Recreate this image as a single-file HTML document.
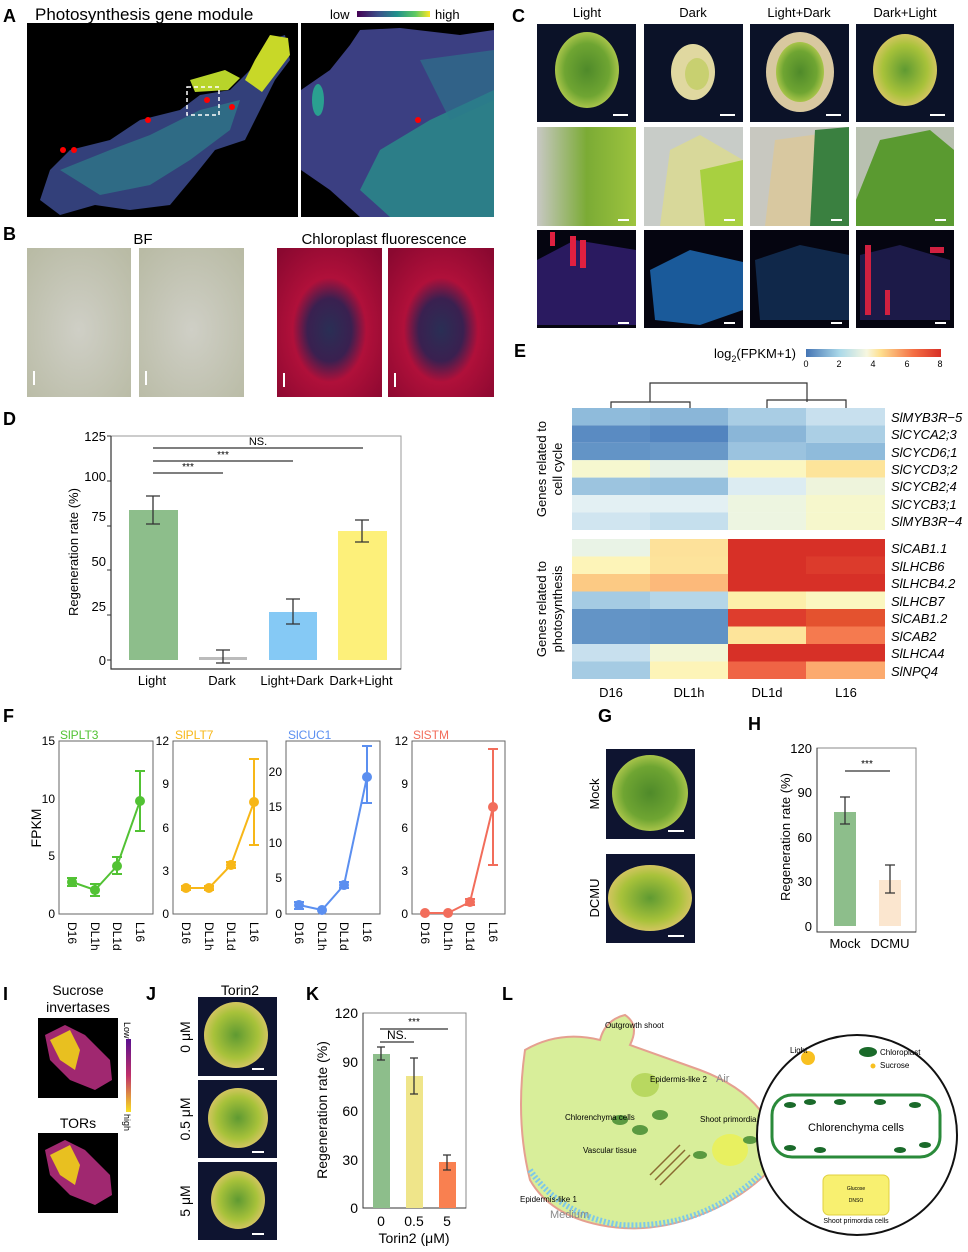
<!DOCTYPE html>
<html><head><meta charset="utf-8"><style>
body{margin:0;background:#fff}
svg{display:block;font-family:"Liberation Sans",Arial,sans-serif}
</style></head><body>
<svg width="968" height="1252" viewBox="0 0 968 1252" xmlns="http://www.w3.org/2000/svg">
<defs>
<linearGradient id="vir" x1="0" x2="1"><stop offset="0" stop-color="#440154"/><stop offset=".3" stop-color="#3b528b"/><stop offset=".55" stop-color="#21918c"/><stop offset=".8" stop-color="#5ec962"/><stop offset="1" stop-color="#fde725"/></linearGradient>
<linearGradient id="rdb" x1="0" x2="1"><stop offset="0" stop-color="#4575b4"/><stop offset=".25" stop-color="#abd9e9"/><stop offset=".45" stop-color="#f7f7e0"/><stop offset=".55" stop-color="#fee090"/><stop offset=".8" stop-color="#f46d43"/><stop offset="1" stop-color="#d73027"/></linearGradient>
<linearGradient id="inf" x1="0" y1="0" x2="0" y2="1"><stop offset="0" stop-color="#5a1090"/><stop offset=".5" stop-color="#c0306a"/><stop offset="1" stop-color="#f8e020"/></linearGradient>
<radialGradient id="redf" cx=".5" cy=".55" r=".7"><stop offset="0" stop-color="#2a2f55"/><stop offset=".3" stop-color="#3a2050"/><stop offset=".5" stop-color="#b0103a"/><stop offset="1" stop-color="#8a0830"/></radialGradient>
<radialGradient id="bfg" cx=".5" cy=".55" r=".7"><stop offset="0" stop-color="#cfcfc6"/><stop offset="1" stop-color="#b9bba5"/></radialGradient>
<radialGradient id="pl" cx=".5" cy=".5" r=".5"><stop offset="0" stop-color="#4f8a2a"/><stop offset=".7" stop-color="#6fa532"/><stop offset="1" stop-color="#a8c44a"/></radialGradient>
<radialGradient id="ply" cx=".5" cy=".5" r=".5"><stop offset="0" stop-color="#5f9a32"/><stop offset=".7" stop-color="#a8c23a"/><stop offset="1" stop-color="#d2c560"/></radialGradient>
<linearGradient id="zm" x1="0" x2="1"><stop offset="0" stop-color="#c8c8c4"/><stop offset=".5" stop-color="#7bab35"/><stop offset="1" stop-color="#9ec43e"/></linearGradient>
<linearGradient id="cb" x1="0" x2="1"><stop offset="0" stop-color="#1c3a90"/><stop offset=".5" stop-color="#0a1a50"/><stop offset="1" stop-color="#1a2a70"/></linearGradient>
</defs>
<g font-weight="bold" font-size="18" fill="#000">
<text x="3" y="22">A</text><text x="3" y="240">B</text><text x="512" y="22">C</text><text x="3" y="425">D</text><text x="514" y="357">E</text><text x="3" y="722">F</text><text x="598" y="722">G</text><text x="748" y="730">H</text><text x="3" y="1000">I</text><text x="146" y="1000">J</text><text x="306" y="1000">K</text><text x="502" y="1000">L</text>
</g>
<!-- A -->
<text x="35" y="20" font-size="17">Photosynthesis gene module</text>
<text x="330" y="19" font-size="13">low</text><rect x="357" y="11" width="73" height="6" fill="url(#vir)"/><text x="435" y="19" font-size="13">high</text>
<rect x="27" y="23" width="271" height="194" fill="#000"/>
<path d="M40 200 L50 170 L70 150 L110 140 L140 120 L180 110 L200 95 L230 90 L250 70 L270 40 L285 35 L290 60 L275 80 L260 110 L245 140 L215 150 L195 175 L170 205 L130 210 L95 205 L60 215 Z" fill="#33407a"/>
<path d="M60 170 L110 150 L150 135 L200 110 L240 100 L230 130 L190 160 L150 185 L100 195 Z" fill="#2e7d8a" opacity=".7"/>
<path d="M255 60 L270 35 L288 38 L290 55 L275 75 L262 92 L245 80 Z" fill="#c8d828"/>
<path d="M190 80 L225 70 L240 78 L228 90 L195 92 Z" fill="#b8d42a"/>
<rect x="187" y="87" width="32" height="28" fill="none" stroke="#fff" stroke-dasharray="4 3" stroke-width="1.5"/>
<g fill="#f00"><circle cx="207" cy="100" r="3"/><circle cx="232" cy="107" r="3"/><circle cx="148" cy="120" r="3"/><circle cx="63" cy="150" r="3"/><circle cx="74" cy="150" r="3"/></g>
<rect x="301" y="23" width="193" height="194" fill="#000"/>
<path d="M301 90 L330 70 L350 45 L360 30 L400 28 L460 35 L494 30 L494 217 L360 217 L330 190 L301 170 Z" fill="#3b3f82"/>
<path d="M380 150 L430 120 L494 90 L494 217 L390 217 L360 190 Z" fill="#2a8a8a" opacity=".85"/>
<path d="M420 60 L494 50 L494 100 L450 120 Z" fill="#2b7a8c" opacity=".6"/>
<ellipse cx="318" cy="100" rx="6" ry="16" fill="#2aa090"/>
<circle cx="418" cy="120" r="3" fill="#f00"/>
<!-- B -->
<text x="143" y="244" font-size="15" text-anchor="middle">BF</text>
<text x="384" y="244" font-size="15" text-anchor="middle">Chloroplast fluorescence</text>
<rect x="27" y="248" width="104" height="149" fill="url(#bfg)"/>
<rect x="139" y="248" width="105" height="149" fill="url(#bfg)"/>
<rect x="277" y="248" width="105" height="149" fill="url(#redf)"/>
<rect x="388" y="248" width="106" height="149" fill="url(#redf)"/>
<g fill="#fff"><rect x="33" y="371" width="2" height="14"/><rect x="145" y="371" width="2" height="14"/><rect x="283" y="373" width="2" height="14"/><rect x="394" y="373" width="2" height="14"/></g>
<!-- C -->
<g font-size="13" text-anchor="middle"><text x="587" y="17">Light</text><text x="693" y="17">Dark</text><text x="799" y="17">Light+Dark</text><text x="905" y="17">Dark+Light</text></g>
<g>
<rect x="537" y="24" width="99" height="98" fill="#0b1228"/>
<rect x="644" y="24" width="99" height="98" fill="#0b1228"/>
<rect x="750" y="24" width="99" height="98" fill="#0b1228"/>
<rect x="856" y="24" width="98" height="98" fill="#0b1228"/>
<ellipse cx="587" cy="70" rx="32" ry="38" fill="url(#pl)"/>
<ellipse cx="693" cy="72" rx="22" ry="28" fill="#e0d8a0"/><ellipse cx="697" cy="74" rx="12" ry="16" fill="#c8d070"/>
<ellipse cx="800" cy="72" rx="34" ry="40" fill="#d8c8a0"/><ellipse cx="800" cy="72" rx="24" ry="30" fill="url(#pl)"/>
<ellipse cx="905" cy="70" rx="32" ry="36" fill="url(#ply)"/>
<rect x="537" y="127" width="99" height="99" fill="url(#zm)"/>
<rect x="644" y="127" width="99" height="99" fill="#c8ccc8"/><path d="M660 226 L670 150 L700 135 L743 160 L743 226 Z" fill="#d8d89a"/><path d="M700 170 L743 160 L743 226 L705 226 Z" fill="#a8d040"/>
<rect x="750" y="127" width="99" height="99" fill="#c8c8c0"/><path d="M765 226 L775 140 L849 130 L849 226 Z" fill="#d8c8a0"/><path d="M815 130 L849 127 L849 226 L810 226 Z" fill="#3a8040"/>
<rect x="856" y="127" width="98" height="99" fill="#b8c0b0"/><path d="M856 200 L880 140 L930 130 L954 150 L954 226 L856 226 Z" fill="#5a9a30"/>
<rect x="537" y="230" width="99" height="98" fill="#050510"/><path d="M537 260 L575 240 L636 250 L636 325 L537 325 Z" fill="#2a1a60"/><g fill="#e02040"><rect x="570" y="236" width="6" height="30"/><rect x="580" y="240" width="6" height="28"/><rect x="550" y="232" width="5" height="14"/></g>
<rect x="644" y="230" width="99" height="98" fill="#050510"/><path d="M650 270 L690 250 L743 262 L743 310 L700 325 L655 320 Z" fill="#1a5a9a"/>
<rect x="750" y="230" width="99" height="98" fill="#050510"/><path d="M755 260 L800 245 L849 255 L849 320 L760 320 Z" fill="#10284a"/>
<rect x="856" y="230" width="98" height="98" fill="#050510"/><path d="M860 255 L900 245 L950 260 L950 320 L860 320 Z" fill="#1c1a48"/><g fill="#d02040"><rect x="865" y="245" width="6" height="70"/><rect x="930" y="247" width="14" height="6"/><rect x="885" y="290" width="5" height="25"/></g>
<g fill="#fff"><rect x="613" y="114" width="15" height="2"/><rect x="720" y="114" width="15" height="2"/><rect x="826" y="114" width="15" height="2"/><rect x="930" y="114" width="15" height="2"/><rect x="618" y="219" width="11" height="2"/><rect x="724" y="219" width="11" height="2"/><rect x="831" y="219" width="11" height="2"/><rect x="935" y="219" width="11" height="2"/><rect x="618" y="322" width="11" height="2"/><rect x="724" y="322" width="11" height="2"/><rect x="831" y="322" width="11" height="2"/><rect x="935" y="322" width="11" height="2"/></g>
</g>
<!-- D -->
<rect x="111" y="436" width="290" height="233" fill="none" stroke="#999" stroke-width="1"/>
<path d="M111 436 V669 H401" fill="none" stroke="#333" stroke-width="1.2"/>
<g font-size="13" text-anchor="end"><text x="106" y="441">125</text><text x="106" y="481">100</text><text x="106" y="521">75</text><text x="106" y="566">50</text><text x="106" y="611">25</text><text x="106" y="665">0</text></g>
<g stroke="#333"><line x1="107" x2="111" y1="436" y2="436"/><line x1="107" x2="111" y1="481" y2="481"/><line x1="107" x2="111" y1="526" y2="526"/><line x1="107" x2="111" y1="570" y2="570"/><line x1="107" x2="111" y1="615" y2="615"/><line x1="107" x2="111" y1="660" y2="660"/></g>
<text transform="translate(78,552) rotate(-90)" font-size="13" text-anchor="middle">Regeneration rate (%)</text>
<rect x="129" y="510" width="49" height="150" fill="#8dbe8b"/>
<rect x="199" y="657" width="48" height="3" fill="#bbb"/>
<rect x="269" y="612" width="48" height="48" fill="#85c9f5"/>
<rect x="338" y="531" width="49" height="129" fill="#fdf07a"/>
<g stroke="#333" stroke-width="1.3" fill="none">
<path d="M153 496 V524 M146 496 H160 M146 524 H160"/>
<path d="M223 650 V663 M216 650 H230 M216 663 H230"/>
<path d="M293 599 V624 M286 599 H300 M286 624 H300"/>
<path d="M362 520 V542 M355 520 H369 M355 542 H369"/>
<path d="M153 473 H223 M153 461 H293 M153 448 H363"/>
</g>
<g font-size="10" text-anchor="middle"><text x="188" y="470">***</text><text x="223" y="458">***</text><text x="258" y="445" font-size="11">NS.</text></g>
<g font-size="13" text-anchor="middle"><text x="152" y="685">Light</text><text x="222" y="685">Dark</text><text x="292" y="685">Light+Dark</text><text x="361" y="685">Dark+Light</text></g>
<!-- E -->
<text x="796" y="358" font-size="13" text-anchor="end">log<tspan font-size="9" dy="4">2</tspan><tspan dy="-4">(FPKM+1)</tspan></text>
<rect x="806" y="349" width="135" height="8" fill="url(#rdb)"/>
<g font-size="9" text-anchor="middle"><text x="806" y="367">0</text><text x="839" y="367">2</text><text x="873" y="367">4</text><text x="907" y="367">6</text><text x="940" y="367">8</text></g>
<path d="M611 408 V402 H690 V408 M650 402 V383 H807 V402 M767 408 V400 H846 V408" fill="none" stroke="#333" stroke-width="1.2"/>
<g id="hm">
<g transform="translate(572,408)">
<rect x="0" y="0" width="78" height="17.4" fill="#8fbbdb"/><rect x="78" y="0" width="78" height="17.4" fill="#8ab6d8"/><rect x="156" y="0" width="78" height="17.4" fill="#a9cde4"/><rect x="234" y="0" width="79" height="17.4" fill="#c8e0ee"/>
<rect x="0" y="17.4" width="78" height="17.4" fill="#5a8bc2"/><rect x="78" y="17.4" width="78" height="17.4" fill="#5284bf"/><rect x="156" y="17.4" width="78" height="17.4" fill="#8ab6d8"/><rect x="234" y="17.4" width="79" height="17.4" fill="#abcfe5"/>
<rect x="0" y="34.8" width="78" height="17.4" fill="#6394c6"/><rect x="78" y="34.8" width="78" height="17.4" fill="#6898c8"/><rect x="156" y="34.8" width="78" height="17.4" fill="#9bc3df"/><rect x="234" y="34.8" width="79" height="17.4" fill="#8fbbdb"/>
<rect x="0" y="52.2" width="78" height="17.4" fill="#f6f7cf"/><rect x="78" y="52.2" width="78" height="17.4" fill="#e6f1e6"/><rect x="156" y="52.2" width="78" height="17.4" fill="#fbf6c0"/><rect x="234" y="52.2" width="79" height="17.4" fill="#fde49a"/>
<rect x="0" y="69.6" width="78" height="17.4" fill="#9cc4df"/><rect x="78" y="69.6" width="78" height="17.4" fill="#97c1de"/><rect x="156" y="69.6" width="78" height="17.4" fill="#dcecf2"/><rect x="234" y="69.6" width="79" height="17.4" fill="#eef4dc"/>
<rect x="0" y="87" width="78" height="17.4" fill="#e3f0f3"/><rect x="78" y="87" width="78" height="17.4" fill="#e3f0f3"/><rect x="156" y="87" width="78" height="17.4" fill="#edf5e0"/><rect x="234" y="87" width="79" height="17.4" fill="#f6f7cc"/>
<rect x="0" y="104.4" width="78" height="17.6" fill="#d0e5f0"/><rect x="78" y="104.4" width="78" height="17.6" fill="#c5dfed"/><rect x="156" y="104.4" width="78" height="17.6" fill="#edf5e1"/><rect x="234" y="104.4" width="79" height="17.6" fill="#f6f7cc"/>
</g>
<g transform="translate(572,539)">
<rect x="0" y="0" width="78" height="17.5" fill="#e9f3e6"/><rect x="78" y="0" width="78" height="17.5" fill="#fde19a"/><rect x="156" y="0" width="157" height="17.5" fill="#d73027"/>
<rect x="0" y="17.5" width="78" height="17.5" fill="#fdf4b8"/><rect x="78" y="17.5" width="78" height="17.5" fill="#fde39b"/><rect x="156" y="17.5" width="78" height="17.5" fill="#d73027"/><rect x="234" y="17.5" width="79" height="17.5" fill="#dc3b2c"/>
<rect x="0" y="35" width="78" height="17.5" fill="#fcca84"/><rect x="78" y="35" width="78" height="17.5" fill="#fcb97a"/><rect x="156" y="35" width="157" height="17.5" fill="#d73027"/>
<rect x="0" y="52.5" width="78" height="17.5" fill="#a5cbe3"/><rect x="78" y="52.5" width="78" height="17.5" fill="#b5d6e8"/><rect x="156" y="52.5" width="78" height="17.5" fill="#fdefaa"/><rect x="234" y="52.5" width="79" height="17.5" fill="#fbf7c0"/>
<rect x="0" y="70" width="78" height="17.5" fill="#6394c6"/><rect x="78" y="70" width="78" height="17.5" fill="#6092c5"/><rect x="156" y="70" width="78" height="17.5" fill="#de3d2d"/><rect x="234" y="70" width="79" height="17.5" fill="#e4522f"/>
<rect x="0" y="87.5" width="78" height="17.5" fill="#6394c6"/><rect x="78" y="87.5" width="78" height="17.5" fill="#6092c5"/><rect x="156" y="87.5" width="78" height="17.5" fill="#fde49a"/><rect x="234" y="87.5" width="79" height="17.5" fill="#f57a4f"/>
<rect x="0" y="105" width="78" height="17.5" fill="#c8e0ee"/><rect x="78" y="105" width="78" height="17.5" fill="#f2f6d6"/><rect x="156" y="105" width="157" height="17.5" fill="#d73027"/>
<rect x="0" y="122.5" width="78" height="17.5" fill="#a5cbe3"/><rect x="78" y="122.5" width="78" height="17.5" fill="#fdf4b8"/><rect x="156" y="122.5" width="78" height="17.5" fill="#ef6445"/><rect x="234" y="122.5" width="79" height="17.5" fill="#fcaa6e"/>
</g>
</g>
<g font-size="13" font-style="italic">
<text x="891" y="422">SlMYB3R−5</text><text x="891" y="439">SlCYCA2;3</text><text x="891" y="457">SlCYCD6;1</text><text x="891" y="474">SlCYCD3;2</text><text x="891" y="491">SlCYCB2;4</text><text x="891" y="509">SlCYCB3;1</text><text x="891" y="526">SlMYB3R−4</text>
<text x="891" y="553">SlCAB1.1</text><text x="891" y="571">SlLHCB6</text><text x="891" y="588">SlLHCB4.2</text><text x="891" y="606">SlLHCB7</text><text x="891" y="623">SlCAB1.2</text><text x="891" y="641">SlCAB2</text><text x="891" y="658">SlLHCA4</text><text x="891" y="676">SlNPQ4</text>
</g>
<g font-size="13" text-anchor="middle">
<text transform="translate(546,469) rotate(-90)">Genes related to</text><text transform="translate(562,469) rotate(-90)">cell cycle</text>
<text transform="translate(546,609) rotate(-90)">Genes related to</text><text transform="translate(562,609) rotate(-90)">photosynthesis</text>
<text x="611" y="697">D16</text><text x="689" y="697">DL1h</text><text x="767" y="697">DL1d</text><text x="846" y="697">L16</text>
</g>
<!-- F -->
<text transform="translate(41,828) rotate(-90)" font-size="14" text-anchor="middle">FPKM</text>
<g font-size="12">
<text x="60" y="739" fill="#52c234">SlPLT3</text><text x="175" y="739" fill="#f7b718">SlPLT7</text><text x="288" y="739" fill="#5b8ff0">SlCUC1</text><text x="413" y="739" fill="#f26d5b">SlSTM</text>
</g>
<g fill="none" stroke="#666"><rect x="59" y="741" width="94" height="173"/><rect x="173" y="741" width="94" height="173"/><rect x="286" y="741" width="94" height="173"/><rect x="412" y="741" width="93" height="173"/></g>
<g font-size="12" text-anchor="end">
<text x="55" y="745">15</text><text x="55" y="803">10</text><text x="55" y="860">5</text><text x="55" y="918">0</text>
<text x="169" y="745">12</text><text x="169" y="788">9</text><text x="169" y="832">6</text><text x="169" y="875">3</text><text x="169" y="918">0</text>
<text x="282" y="776">20</text><text x="282" y="811">15</text><text x="282" y="847">10</text><text x="282" y="882">5</text><text x="282" y="918">0</text>
<text x="408" y="745">12</text><text x="408" y="788">9</text><text x="408" y="832">6</text><text x="408" y="875">3</text><text x="408" y="918">0</text>
</g>
<g font-size="12">
<text transform="translate(68,922) rotate(90)">D16</text><text transform="translate(91,922) rotate(90)">DL1h</text><text transform="translate(113,922) rotate(90)">DL1d</text><text transform="translate(136,922) rotate(90)">L16</text>
<text transform="translate(182,922) rotate(90)">D16</text><text transform="translate(205,922) rotate(90)">DL1h</text><text transform="translate(227,922) rotate(90)">DL1d</text><text transform="translate(250,922) rotate(90)">L16</text>
<text transform="translate(295,922) rotate(90)">D16</text><text transform="translate(318,922) rotate(90)">DL1h</text><text transform="translate(340,922) rotate(90)">DL1d</text><text transform="translate(363,922) rotate(90)">L16</text>
<text transform="translate(421,922) rotate(90)">D16</text><text transform="translate(444,922) rotate(90)">DL1h</text><text transform="translate(466,922) rotate(90)">DL1d</text><text transform="translate(489,922) rotate(90)">L16</text>
</g>
<g stroke="#52c234" stroke-width="2" fill="#52c234">
<polyline points="72,882 95,890 117,866 140,801" fill="none"/>
<path d="M72 878V886M95 884V896M117 857V874M140 771V831M67 878H77M67 886H77M90 884H100M90 896H100M112 857H122M112 874H122M135 771H145M135 831H145" fill="none"/>
<circle cx="72" cy="882" r="4"/><circle cx="95" cy="890" r="4"/><circle cx="117" cy="866" r="4"/><circle cx="140" cy="801" r="4"/>
</g>
<g stroke="#f7b718" stroke-width="2" fill="#f7b718">
<polyline points="186,888 209,888 231,865 254,802" fill="none"/>
<path d="M254 759V845M249 759H259M249 845H259M181 886H191M181 890H191M204 886H214M204 890H214M226 862H236M226 868H236" fill="none"/>
<circle cx="186" cy="888" r="4"/><circle cx="209" cy="888" r="4"/><circle cx="231" cy="865" r="4"/><circle cx="254" cy="802" r="4"/>
</g>
<g stroke="#5b8ff0" stroke-width="2" fill="#5b8ff0">
<polyline points="299,905 322,910 344,885 367,777" fill="none"/>
<path d="M367 746V803M362 746H372M362 803H372M294 902H304M294 909H304M339 882H349M339 888H349" fill="none"/>
<circle cx="299" cy="905" r="4"/><circle cx="322" cy="910" r="4"/><circle cx="344" cy="885" r="4"/><circle cx="367" cy="777" r="4"/>
</g>
<g stroke="#f26d5b" stroke-width="2" fill="#f26d5b">
<polyline points="425,913 448,913 470,902 493,807" fill="none"/>
<path d="M493 749V865M488 749H498M488 865H498M465 899H475M465 905H475" fill="none"/>
<circle cx="425" cy="913" r="4"/><circle cx="448" cy="913" r="4"/><circle cx="470" cy="902" r="4"/><circle cx="493" cy="807" r="4"/>
</g>
<!-- G -->
<rect x="606" y="749" width="89" height="90" fill="#0e1430"/><ellipse cx="650" cy="793" rx="38" ry="38" fill="url(#pl)"/><rect x="668" y="830" width="16" height="2" fill="#fff"/>
<rect x="606" y="854" width="89" height="89" fill="#0e1430"/><ellipse cx="650" cy="898" rx="42" ry="33" fill="url(#ply)"/><rect x="668" y="935" width="16" height="2" fill="#fff"/>
<text transform="translate(599,794) rotate(-90)" font-size="13" text-anchor="middle">Mock</text>
<text transform="translate(599,898) rotate(-90)" font-size="13" text-anchor="middle">DCMU</text>
<!-- H -->
<rect x="817" y="748" width="99" height="184" fill="none" stroke="#888"/>
<path d="M817 748V932H916" fill="none" stroke="#333"/>
<g font-size="13" text-anchor="end"><text x="812" y="753">120</text><text x="812" y="797">90</text><text x="812" y="842">60</text><text x="812" y="886">30</text><text x="812" y="931">0</text></g>
<text transform="translate(790,837) rotate(-90)" font-size="13" text-anchor="middle">Regeneration rate (%)</text>
<rect x="834" y="812" width="22" height="114" fill="#8dbe8b"/><rect x="879" y="880" width="22" height="46" fill="#fbe6cf"/>
<path d="M845 797V824M840 797H850M840 824H850M890 865V893M885 865H895M885 893H895M845 771H890" stroke="#333" stroke-width="1.3" fill="none"/>
<text x="867" y="767" font-size="10" text-anchor="middle">***</text>
<g font-size="13" text-anchor="middle"><text x="845" y="948">Mock</text><text x="890" y="948">DCMU</text></g>
<!-- I -->
<g font-size="14" text-anchor="middle"><text x="78" y="995">Sucrose</text><text x="78" y="1012">invertases</text><text x="78" y="1128">TORs</text></g>
<rect x="38" y="1018" width="80" height="80" fill="#000"/><path d="M45 1035 L65 1025 L85 1035 L110 1060 L112 1080 L95 1090 L70 1080 L50 1060 Z" fill="#a02870"/><path d="M50 1040 L70 1030 L80 1050 L75 1070 L60 1060 Z" fill="#e8c020"/>
<rect x="38" y="1133" width="80" height="80" fill="#000"/><path d="M45 1150 L65 1140 L85 1150 L110 1175 L112 1195 L95 1205 L70 1195 L50 1175 Z" fill="#a02870"/><path d="M50 1155 L70 1145 L80 1165 L75 1185 L60 1175 Z" fill="#e8c020"/>
<rect x="126" y="1039" width="5" height="73" fill="url(#inf)"/>
<text transform="translate(124,1022) rotate(90)" font-size="9">Low</text><text transform="translate(124,1114) rotate(90)" font-size="9">high</text>
<!-- J -->
<text x="240" y="995" font-size="14" text-anchor="middle">Torin2</text>
<rect x="198" y="997" width="79" height="79" fill="#0e1430"/><ellipse cx="236" cy="1035" rx="32" ry="33" fill="url(#ply)"/>
<rect x="198" y="1080" width="79" height="78" fill="#0e1430"/><ellipse cx="238" cy="1118" rx="30" ry="30" fill="url(#ply)"/>
<rect x="198" y="1162" width="79" height="78" fill="#0e1430"/><ellipse cx="238" cy="1200" rx="27" ry="29" fill="url(#ply)"/>
<g fill="#fff"><rect x="252" y="1068" width="12" height="2"/><rect x="252" y="1151" width="12" height="2"/><rect x="252" y="1233" width="12" height="2"/></g>
<g font-size="14" text-anchor="middle"><text transform="translate(190,1037) rotate(-90)">0 μM</text><text transform="translate(190,1119) rotate(-90)">0.5 μM</text><text transform="translate(190,1201) rotate(-90)">5 μM</text></g>
<!-- K -->
<rect x="363" y="1013" width="103" height="195" fill="none" stroke="#888"/>
<path d="M363 1013V1208H466" fill="none" stroke="#333"/>
<g font-size="14" text-anchor="end"><text x="358" y="1018">120</text><text x="358" y="1067">90</text><text x="358" y="1116">60</text><text x="358" y="1165">30</text><text x="358" y="1213">0</text></g>
<text transform="translate(327,1110) rotate(-90)" font-size="14" text-anchor="middle">Regeneration rate (%)</text>
<rect x="373" y="1054" width="17" height="154" fill="#8dbe8b"/><rect x="406" y="1076" width="17" height="132" fill="#efe58a"/><rect x="439" y="1162" width="17" height="46" fill="#f98050"/>
<path d="M381 1047V1060M377 1047H385M377 1060H385M414 1058V1094M410 1058H418M410 1094H418M447 1155V1170M443 1155H451M443 1170H451M380 1029H448M380 1042H414" stroke="#333" stroke-width="1.3" fill="none"/>
<text x="414" y="1025" font-size="10" text-anchor="middle">***</text><text x="397" y="1039" font-size="12" text-anchor="middle">NS.</text>
<g font-size="14" text-anchor="middle"><text x="381" y="1226">0</text><text x="414" y="1226">0.5</text><text x="447" y="1226">5</text><text x="414" y="1243">Torin2 (μM)</text></g>
<!-- L -->
<path d="M525 1050 Q560 1030 600 1040 Q605 1020 625 1015 Q640 1025 630 1045 L700 1070 Q740 1085 760 1110 Q790 1140 770 1170 Q740 1200 700 1215 Q650 1235 600 1225 Q550 1215 530 1180 Q515 1120 525 1050 Z" fill="#d8ee9a" stroke="#e5a090" stroke-width="2"/>
<path d="M530 1170 Q560 1215 620 1225 Q700 1230 760 1175" fill="none" stroke="#7ec8e8" stroke-width="6" stroke-dasharray="2 2"/>
<ellipse cx="645" cy="1085" rx="14" ry="12" fill="#b8d860"/><ellipse cx="730" cy="1150" rx="18" ry="16" fill="#e8f060"/>
<g fill="#5a9a40"><ellipse cx="620" cy="1120" rx="8" ry="5"/><ellipse cx="640" cy="1130" rx="8" ry="5"/><ellipse cx="660" cy="1115" rx="8" ry="5"/><ellipse cx="700" cy="1155" rx="7" ry="4"/><ellipse cx="750" cy="1140" rx="7" ry="4"/></g>
<g stroke="#8a6a30" stroke-width="1.5"><line x1="650" y1="1175" x2="680" y2="1145"/><line x1="655" y1="1180" x2="685" y2="1150"/><line x1="660" y1="1185" x2="690" y2="1155"/></g>
<g font-size="8"><text x="605" y="1028">Outgrowth shoot</text><text x="650" y="1082">Epidermis-like 2</text><text x="565" y="1120">Chlorenchyma cells</text><text x="700" y="1122">Shoot primordia</text><text x="583" y="1153">Vascular tissue</text><text x="520" y="1202">Epidermis-like 1</text></g>
<text x="716" y="1082" font-size="11" fill="#888">Air</text><text x="550" y="1218" font-size="11" fill="#888">Medium</text>
<circle cx="857" cy="1135" r="100" fill="#fff" stroke="#111" stroke-width="2"/>
<circle cx="808" cy="1058" r="7" fill="#f8c020"/><ellipse cx="868" cy="1052" rx="9" ry="5" fill="#1a6a2a"/>
<text x="790" y="1053" font-size="8">Light</text><text x="880" y="1055" font-size="8">Chloroplast</text><text x="880" y="1068" font-size="8">Sucrose</text><circle cx="873" cy="1066" r="2.5" fill="#f8c020"/>
<rect x="772" y="1095" width="168" height="62" rx="20" fill="#fff" stroke="#2a8a3a" stroke-width="3"/>
<g fill="#1a6a2a"><ellipse cx="790" cy="1105" rx="6" ry="3"/><ellipse cx="810" cy="1102" rx="6" ry="3"/><ellipse cx="840" cy="1102" rx="6" ry="3"/><ellipse cx="880" cy="1102" rx="6" ry="3"/><ellipse cx="915" cy="1105" rx="6" ry="3"/><ellipse cx="790" cy="1148" rx="6" ry="3"/><ellipse cx="820" cy="1150" rx="6" ry="3"/><ellipse cx="900" cy="1150" rx="6" ry="3"/><ellipse cx="925" cy="1145" rx="6" ry="3"/></g>
<text x="856" y="1131" font-size="11" text-anchor="middle">Chlorenchyma cells</text>
<rect x="823" y="1175" width="66" height="40" rx="6" fill="#f8f070" stroke="#e0d040"/>
<text x="856" y="1190" font-size="5" text-anchor="middle">Glucose</text><text x="856" y="1202" font-size="5" text-anchor="middle">DNSO</text>
<text x="856" y="1223" font-size="7" text-anchor="middle">Shoot primordia cells</text>
</svg>
</body></html>
